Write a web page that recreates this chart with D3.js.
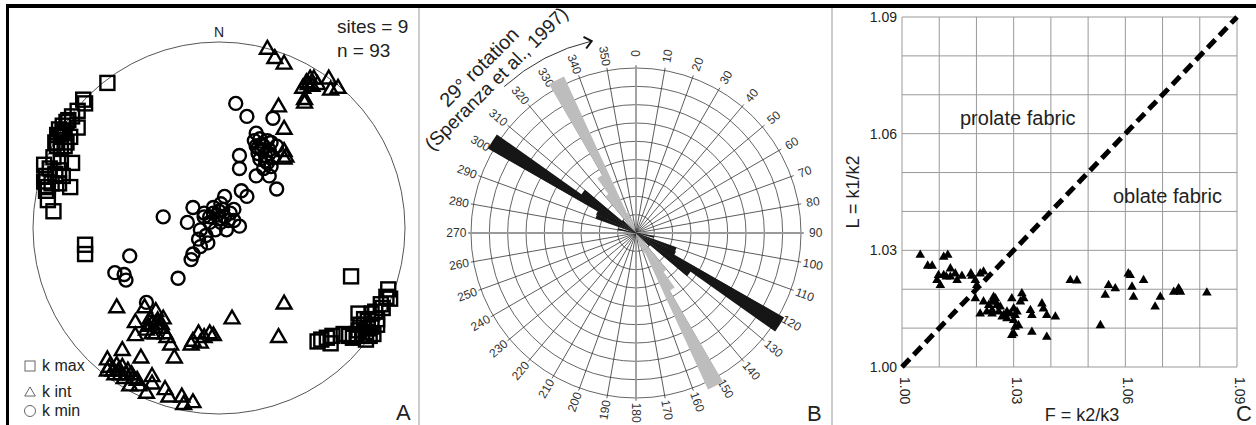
<html>
<head>
<meta charset="UTF-8">
<script src="https://d3js.org/d3.v7.min.js"></script>
<style>
  body { margin: 0; background: #fff; }
  svg text { font-family: "Liberation Sans", Arial, sans-serif; fill: #222; }
</style>
</head>
<body>
<svg id="fig" width="1256" height="425"></svg>
<script>
// ---------- panel A: stereonet, projected coordinates (unit circle) ----------
const kMax = [
  [-0.60,0.78],[-0.73,0.69],[-0.72,0.67],[-0.76,0.63],[-0.79,0.60],[-0.81,0.58],[-0.84,0.55],[-0.86,0.53],
  [-0.76,0.54],[-0.83,0.51],[-0.80,0.49],[-0.85,0.49],[-0.88,0.46],[-0.82,0.46],[-0.85,0.43],[-0.87,0.44],
  [-0.82,0.57],[-0.84,0.52],[-0.87,0.50],[-0.83,0.44],[-0.89,0.38],[-0.86,0.31],[-0.92,0.22],
  [-0.94,0.34],[-0.91,0.32],[-0.85,0.35],[-0.79,0.35],[-0.93,0.28],[-0.88,0.29],[-0.84,0.28],[-0.94,0.25],
  [-0.90,0.24],[-0.86,0.24],[-0.80,0.22],[-0.93,0.20],[-0.92,0.15],[-0.89,0.09],[-0.72,-0.09],[-0.72,-0.14],
  [0.71,-0.26],[0.91,-0.33],[0.92,-0.38],[0.87,-0.41],[0.90,-0.37],[0.75,-0.46],[0.82,-0.46],[0.85,-0.49],
  [0.78,-0.49],[0.80,-0.54],[0.75,-0.55],[0.83,-0.57],[0.77,-0.58],[0.72,-0.59],[0.67,-0.57],[0.61,-0.58],
  [0.58,-0.59],[0.53,-0.61],[0.55,-0.60],[0.60,-0.62],[0.70,-0.58],[0.79,-0.60],[0.85,-0.52],[0.78,-0.52],
  [0.81,-0.58],[0.80,-0.50],[0.76,-0.52],[0.82,-0.53],[0.79,-0.56],[0.74,-0.57],[0.84,-0.45],[0.88,-0.43]
];
const kInt = [
  [0.26,0.96],[0.30,0.91],[0.35,0.88],[0.49,0.80],[0.48,0.77],[0.45,0.75],[0.59,0.80],[0.64,0.75],
  [0.60,0.74],[0.53,0.77],[0.46,0.69],[0.46,0.67],[0.51,0.80],[0.47,0.78],[0.50,0.76],
  [0.32,0.65],[0.35,0.53],[0.36,0.38],[0.35,0.37],[0.35,0.41],
  [-0.55,-0.43],[-0.40,-0.43],[-0.34,-0.45],[-0.45,-0.51],[-0.45,-0.58],[-0.37,-0.49],[-0.34,-0.52],
  [-0.32,-0.54],[-0.29,-0.57],[-0.28,-0.59],[-0.34,-0.57],[-0.39,-0.55],[-0.36,-0.57],[-0.30,-0.49],
  [-0.36,-0.52],[-0.33,-0.50],[-0.38,-0.53],[-0.31,-0.52],
  [-0.26,-0.63],[-0.24,-0.70],[-0.42,-0.70],[-0.52,-0.66],[-0.60,-0.71],
  [-0.11,-0.57],[-0.14,-0.61],[-0.08,-0.59],[-0.05,-0.57],[-0.03,-0.58],[-0.15,-0.63],[-0.10,-0.62],
  [0.07,-0.49],[0.35,-0.41],[0.32,-0.59],
  [-0.59,-0.75],[-0.55,-0.74],[-0.52,-0.75],[-0.49,-0.77],[-0.47,-0.79],[-0.57,-0.77],[-0.51,-0.81],
  [-0.44,-0.82],[-0.36,-0.80],[-0.36,-0.84],[-0.39,-0.89],[-0.48,-0.85],[-0.29,-0.87],[-0.27,-0.91],
  [-0.20,-0.91],[-0.19,-0.95],[-0.14,-0.94],[-0.60,-0.77],[-0.53,-0.79],[-0.43,-0.85],
  [-0.54,-0.77],[-0.50,-0.79],[-0.56,-0.79],[-0.46,-0.81]
];
const kMin = [
  [0.09,0.67],[0.15,0.60],[0.29,0.59],[0.20,0.51],[0.19,0.47],
  [0.22,0.48],[0.26,0.47],[0.28,0.46],[0.20,0.44],[0.24,0.44],[0.27,0.42],[0.21,0.40],[0.25,0.39],
  [0.29,0.38],[0.22,0.37],[0.26,0.35],[0.28,0.33],[0.24,0.32],[0.31,0.44],
  [0.23,0.42],[0.25,0.36],[0.23,0.45],[0.27,0.40],[0.21,0.43],
  [0.11,0.39],[0.11,0.32],[0.20,0.28],[0.27,0.28],[0.31,0.21],[0.12,0.20],[0.15,0.17],[0.03,0.17],
  [0.01,0.13],[-0.03,0.11],[0.02,0.10],[0.06,0.08],[-0.01,0.07],[-0.08,0.06],[0.08,0.04],[-0.05,0.03],
  [0.01,0.03],[0.11,0.01],[0.04,-0.01],[-0.10,-0.01],[-0.02,-0.01],[-0.07,-0.04],[-0.11,-0.06],
  [-0.06,-0.08],[-0.10,-0.10],[-0.14,-0.14],[-0.15,-0.17],[-0.17,0.03],[-0.14,0.11],[-0.08,0.08],
  [0.08,0.10],[0.03,0.06],[0.00,0.09],[-0.05,0.06],[0.00,0.05],[0.05,0.04],[-0.03,0.08],
  [-0.30,0.06],[-0.48,-0.15],[-0.56,-0.24],[-0.51,-0.25],[-0.50,-0.28],[-0.22,-0.27],[-0.39,-0.40]
];
const legendA = ["k max", "k int", "k min"];

// ---------- panel B: rose diagram, 5 degree axial bins ----------
const blackBins = [100, 110, 115, 120, 125, 130];
const blackVals = [1.0, 2.35, 2.4, 9.3, 3.65, 1.0];
const grayBins  = [140, 145, 150, 155, 160];
const grayVals  = [2.6, 3.65, 9.4, 1.2, 0.8];
const roseLabels = d3.range(0, 360, 10);

// ---------- panel C: Flinn diagram ----------
const F = [1.0049,1.0069,1.0081,1.0103,1.0098,1.0112,1.0112,1.0123,1.0130,1.0130,1.0143,1.0148,1.0161,1.0119,
  1.0094,1.0185,1.0188,1.0197,1.0210,1.0219,1.0201,1.0197,1.0210,1.0219,1.0233,1.0242,1.0246,1.0251,1.0255,
  1.0242,1.0260,1.0273,1.0282,1.0295,1.0291,1.0300,1.0309,1.0300,1.0304,1.0300,1.0295,1.0313,1.0318,1.0322,
  1.0327,1.0345,1.0349,1.0349,1.0376,1.0380,1.0389,1.0389,1.0412,1.0452,1.0470,1.0533,1.0546,1.0555,1.0573,
  1.0613,1.0618,1.0622,1.0649,1.0680,1.0694,1.0730,1.0743,1.0748,1.0819,
  1.0242,1.0251,1.0264,1.0228,1.0282,1.0304,1.0269,1.0608,1.0745];
const L = [1.0288,1.0260,1.0260,1.0210,1.0236,1.0236,1.0283,1.0288,1.0253,1.0232,1.0240,1.0223,1.0234,1.0232,
  1.0223,1.0240,1.0234,1.0223,1.0240,1.0245,1.0210,1.0176,1.0137,1.0168,1.0159,1.0146,1.0180,1.0168,1.0159,
  1.0137,1.0142,1.0133,1.0125,1.0176,1.0137,1.0150,1.0142,1.0120,1.0103,1.0086,1.0082,1.0107,1.0168,1.0189,
  1.0176,1.0146,1.0133,1.0090,1.0163,1.0150,1.0133,1.0077,1.0129,1.0223,1.0222,1.0107,1.0185,1.0210,1.0202,
  1.0236,1.0206,1.0180,1.0223,1.0155,1.0180,1.0193,1.0202,1.0193,1.0191,
  1.0168,1.0176,1.0155,1.0142,1.0142,1.0133,1.0129,1.0240,1.0198];
const gridC = d3.range(0, 10).map(i => 1 + i * 0.01);
const tickC = [1.00, 1.03, 1.06, 1.09];

let svg = d3.select('svg#fig');

// frame
svg.append('rect').attr('width', 1256).attr('height', 425).attr('fill', 'white');
svg.append('line').attr('x1', 6).attr('x2', 1256).attr('y1', 6).attr('y2', 6)
   .attr('stroke', 'black').attr('stroke-width', 4);
svg.append('line').attr('x1', 7.5).attr('x2', 7.5).attr('y1', 4).attr('y2', 425)
   .attr('stroke', 'black').attr('stroke-width', 3);
[419, 832].forEach(x => {
  svg.append('line').attr('x1', x).attr('x2', x).attr('y1', 8).attr('y2', 425)
     .attr('stroke', '#aaa').attr('stroke-width', 1.2);
});

// ===== panel A =====
let cxA = 219, cyA = 228, RA = 186;
let sx = d3.scaleLinear().domain([-1, 1]).range([cxA - RA, cxA + RA]);
let sy = d3.scaleLinear().domain([-1, 1]).range([cyA + RA, cyA - RA]);
let gA = svg.append('g');

gA.append('circle').attr('cx', sx(0)).attr('cy', sy(0)).attr('r', sx(1) - sx(0))
  .attr('fill', 'none').attr('stroke', '#555').attr('stroke-width', 1);
gA.append('text').attr('x', sx(0)).attr('y', 37).attr('text-anchor', 'middle')
  .style('font-size', '14px').text('N');
gA.append('text').attr('x', 337).attr('y', 33).style('font-size', '19px').text('sites = 9');
gA.append('text').attr('x', 337).attr('y', 57).style('font-size', '19px').text('n = 93');

let tri = d3.symbol().type(d3.symbolTriangle);

kMax.forEach(d => {
  gA.append('rect').attr('x', sx(d[0]) - 7).attr('y', sy(d[1]) - 7)
    .attr('width', 14).attr('height', 14)
    .attr('fill', 'none').attr('stroke', 'black').attr('stroke-width', 2.4);
});
kInt.forEach(d => {
  gA.append('path').attr('d', tri.size(95)())
    .attr('transform', `translate(${sx(d[0])},${sy(d[1])})`)
    .attr('fill', 'none').attr('stroke', 'black').attr('stroke-width', 2.4);
});
kMin.forEach(d => {
  gA.append('circle').attr('cx', sx(d[0])).attr('cy', sy(d[1])).attr('r', 6.5)
    .attr('fill', 'none').attr('stroke', 'black').attr('stroke-width', 2.4);
});

// legend
let legY = [366, 392, 411];
gA.append('rect').attr('x', 25).attr('y', 361).attr('width', 10).attr('height', 10)
  .attr('fill', 'none').attr('stroke', '#666');
gA.append('path').attr('d', tri.size(48)()).attr('transform', 'translate(30,393)')
  .attr('fill', 'none').attr('stroke', '#666');
gA.append('circle').attr('cx', 30).attr('cy', 411).attr('r', 5.5)
  .attr('fill', 'none').attr('stroke', '#666');
legendA.forEach((t, i) => {
  gA.append('text').attr('x', 42).attr('y', legY[i] + 5).style('font-size', '16px').text(t);
});
gA.append('text').attr('x', 396).attr('y', 420).style('font-size', '22px').text('A');

// ===== panel B =====
let cxB = 636, cyB = 233;
let rScale = d3.scaleLinear().domain([0, 9]).range([0, 165]);
let gB = svg.append('g').attr('transform', `translate(${cxB},${cyB})`);
let rad = a => a * Math.PI / 180;

d3.range(1, 10).forEach(i => {
  gB.append('circle').attr('r', rScale(i)).attr('fill', 'none')
    .attr('stroke', '#555').attr('stroke-width', 0.9);
});
roseLabels.forEach(b => {
  let major = b % 90 === 0;
  let r1 = rScale(9.15);
  gB.append('line').attr('x1', 0).attr('y1', 0)
    .attr('x2', r1 * Math.sin(rad(b))).attr('y2', -r1 * Math.cos(rad(b)))
    .attr('stroke', major ? '#999' : '#333').attr('stroke-width', major ? 1.8 : 0.8);
  let rl = rScale(9.8);
  let rot = b <= 180 ? b - 90 : b - 270;
  gB.append('text')
    .attr('transform', `translate(${rl * Math.sin(rad(b))},${-rl * Math.cos(rad(b))}) rotate(${rot})`)
    .attr('text-anchor', 'middle').attr('dy', '0.35em')
    .style('font-size', '12px').style('fill', '#333').text(b);
});

let arc = d3.arc().innerRadius(0);
function petals(bins, vals, color) {
  bins.forEach((b, i) => {
    [b, b + 180].forEach(s => {
      gB.append('path')
        .attr('d', arc({startAngle: rad(s - 0.3), endAngle: rad(s + 5.3), outerRadius: rScale(vals[i])}))
        .attr('fill', color);
    });
  });
}
petals(grayBins, grayVals, '#bdbdbd');
petals(blackBins, blackVals, '#161616');

// rotation arrow
let rArr = 197, a0 = 318, a1 = 347;
let p = d3.path();
p.arc(0, 0, rArr, rad(a0 - 90), rad(a1 - 90));
gB.append('path').attr('d', p.toString()).attr('fill', 'none')
  .attr('stroke', '#333').attr('stroke-width', 1);
let tip = [rArr * Math.sin(rad(a1)), -rArr * Math.cos(rad(a1))];
gB.append('path')
  .attr('d', `M-7,-6 L0,0 L-7,6`)
  .attr('transform', `translate(${tip[0]},${tip[1]}) rotate(${a1})`)
  .attr('fill', 'none').attr('stroke', '#111').attr('stroke-width', 2);

let gT = svg.append('g').attr('transform', 'translate(479,67) rotate(-45)');
gT.append('text').attr('x', 0).attr('y', 7).attr('text-anchor', 'middle')
  .style('font-size', '20px').text('29° rotation');
gT.append('text').attr('x', 4).attr('y', 27).attr('text-anchor', 'middle')
  .style('font-size', '19px').text('(Speranza et al., 1997)');

svg.append('text').attr('x', 807).attr('y', 421).style('font-size', '22px').text('B');

// ===== panel C =====
let xC = d3.scaleLinear().domain([1.00, 1.09]).range([902, 1237]);
let yC = d3.scaleLinear().domain([1.00, 1.09]).range([367, 17]);
let gC = svg.append('g');

gridC.forEach(v => {
  gC.append('line').attr('x1', xC(v)).attr('x2', xC(v)).attr('y1', yC(1.00)).attr('y2', yC(1.09))
    .attr('stroke', '#999').attr('stroke-width', 1);
  gC.append('line').attr('x1', xC(1.00)).attr('x2', xC(1.09)).attr('y1', yC(v)).attr('y2', yC(v))
    .attr('stroke', '#999').attr('stroke-width', 1);
});

gC.append('line').attr('x1', xC(1.00)).attr('y1', yC(1.00)).attr('x2', xC(1.09)).attr('y2', yC(1.09))
  .attr('stroke', 'black').attr('stroke-width', 5).attr('stroke-dasharray', '11,6');

F.forEach((f, i) => {
  gC.append('path').attr('d', tri.size(40)())
    .attr('transform', `translate(${xC(f)},${yC(L[i])})`).attr('fill', 'black');
});

let fmt = d3.format('.2f');
tickC.forEach(v => {
  gC.append('text').attr('x', 897).attr('y', yC(v)).attr('dy', '0.35em')
    .attr('text-anchor', 'end').style('font-size', '14px').text(fmt(v));
  gC.append('text').attr('transform', `translate(${xC(v) + 3},${yC(1.00) + 10}) rotate(90)`)
    .attr('dy', '0.35em').style('font-size', '14px').text(fmt(v));
});

gC.append('text').attr('transform', `translate(859,${yC(1.045)}) rotate(-90)`)
  .attr('text-anchor', 'middle').style('font-size', '18px').text('L = k1/k2');
gC.append('text').attr('x', 1082).attr('y', 421).attr('text-anchor', 'middle')
  .style('font-size', '18px').text('F = k2/k3');
gC.append('text').attr('x', 960).attr('y', 125).style('font-size', '20px').text('prolate fabric');
gC.append('text').attr('x', 1113).attr('y', 203).style('font-size', '20px').text('oblate fabric');
gC.append('text').attr('x', 1236).attr('y', 421).style('font-size', '22px').text('C');
</script>
</body>
</html>
